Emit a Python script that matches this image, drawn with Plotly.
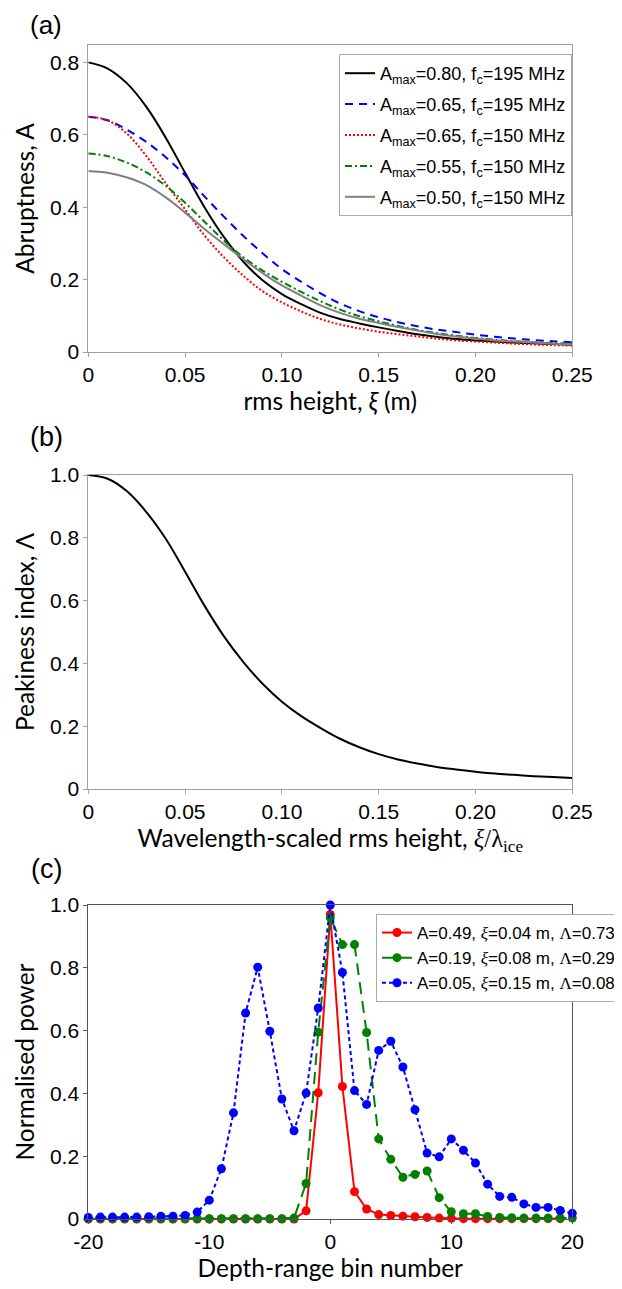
import plotly.graph_objects as go

# ---------------- Panel (a): abruptness vs rms height ----------------
xi_a = [0.00, 0.01, 0.02, 0.03, 0.04, 0.05, 0.06, 0.07, 0.08, 0.09, 0.10, 0.11, 0.12,
        0.13, 0.14, 0.15, 0.16, 0.17, 0.18, 0.19, 0.20, 0.21, 0.22, 0.23, 0.24, 0.25]
A_080_195 = [0.800, 0.783, 0.742, 0.677, 0.592, 0.495, 0.400, 0.318, 0.250, 0.198, 0.160, 0.132, 0.108,
             0.091, 0.079, 0.068, 0.058, 0.049, 0.042, 0.036, 0.032, 0.029, 0.026, 0.024, 0.022, 0.020]
A_065_195 = [0.650, 0.640, 0.614, 0.580, 0.538, 0.488, 0.430, 0.374, 0.321, 0.273, 0.229, 0.194, 0.162,
             0.134, 0.113, 0.096, 0.082, 0.071, 0.062, 0.055, 0.048, 0.042, 0.037, 0.033, 0.030, 0.027]
A_065_150 = [0.650, 0.640, 0.603, 0.541, 0.466, 0.394, 0.322, 0.262, 0.211, 0.168, 0.137, 0.112, 0.091,
             0.076, 0.065, 0.056, 0.049, 0.043, 0.037, 0.032, 0.029, 0.026, 0.023, 0.021, 0.019, 0.018]
A_055_150 = [0.548, 0.541, 0.523, 0.496, 0.459, 0.412, 0.360, 0.308, 0.262, 0.225, 0.194, 0.166, 0.140,
             0.117, 0.099, 0.085, 0.072, 0.061, 0.052, 0.045, 0.039, 0.034, 0.030, 0.027, 0.025, 0.023]
A_050_150 = [0.500, 0.495, 0.482, 0.461, 0.427, 0.385, 0.340, 0.298, 0.257, 0.218, 0.184, 0.156, 0.129,
             0.108, 0.092, 0.080, 0.069, 0.059, 0.050, 0.043, 0.037, 0.032, 0.029, 0.026, 0.023, 0.021]
names_a = ["A<sub>max</sub>=0.80, f<sub>c</sub>=195 MHz",
           "A<sub>max</sub>=0.65, f<sub>c</sub>=195 MHz",
           "A<sub>max</sub>=0.65, f<sub>c</sub>=150 MHz",
           "A<sub>max</sub>=0.55, f<sub>c</sub>=150 MHz",
           "A<sub>max</sub>=0.50, f<sub>c</sub>=150 MHz"]
xticks_ab = [0, 0.05, 0.10, 0.15, 0.20, 0.25]
xticklabels_ab = ["0", "0.05", "0.10", "0.15", "0.20", "0.25"]
yticks_a = [0, 0.2, 0.4, 0.6, 0.8]
yticklabels_a = ["0", "0.2", "0.4", "0.6", "0.8"]

# ---------------- Panel (b): peakiness index ----------------
xi_b = xi_a
peakiness = [1.000, 0.988, 0.948, 0.882, 0.797, 0.692, 0.584, 0.487, 0.405, 0.335, 0.278, 0.232, 0.194,
             0.160, 0.133, 0.111, 0.094, 0.081, 0.070, 0.062, 0.055, 0.049, 0.045, 0.041, 0.038, 0.035]
yticks_bc = [0, 0.2, 0.4, 0.6, 0.8, 1.0]
yticklabels_bc = ["0", "0.2", "0.4", "0.6", "0.8", "1.0"]

# ---------------- Panel (c): normalised power vs bin ----------------
bins = list(range(-20, 21))
p_red = [0.0] * 17 + [0.0, 0.026, 0.402, 0.970, 0.422, 0.087, 0.032, 0.014, 0.011, 0.009, 0.007,
                      0.005, 0.003, 0.002, 0.001, 0.001, 0.001, 0.001, 0.001, 0.001, 0.001, 0.001, 0.001]
p_green = [0.001] * 16 + [0.001, 0.003, 0.113, 0.595, 0.960, 0.874, 0.874, 0.594, 0.255, 0.190, 0.133,
                          0.142, 0.153, 0.068, 0.023, 0.017, 0.017, 0.008, 0.005, 0.004, 0.003, 0.003,
                          0.003, 0.003, 0.003]
p_blue = [0.005, 0.006, 0.006, 0.006, 0.006, 0.007, 0.009, 0.009, 0.011, 0.022, 0.060, 0.160, 0.338,
          0.656, 0.802, 0.598, 0.382, 0.281, 0.401, 0.672, 1.000, 0.785, 0.409, 0.365, 0.537, 0.566,
          0.484, 0.348, 0.210, 0.198, 0.255, 0.219, 0.178, 0.111, 0.072, 0.069, 0.048, 0.037, 0.037,
          0.027, 0.018]
SER = "font-family:'Liberation Serif'"
names_c = [f"A=0.49, <span style=\"{SER}\"><i>ξ</i></span>=0.04 m, <span style=\"{SER}\">Λ</span>=0.73",
           f"A=0.19, <span style=\"{SER}\"><i>ξ</i></span>=0.08 m, <span style=\"{SER}\">Λ</span>=0.29",
           f"A=0.05, <span style=\"{SER}\"><i>ξ</i></span>=0.15 m, <span style=\"{SER}\">Λ</span>=0.08"]
xticks_c = [-20, -10, 0, 10, 20]
xticklabels_c = ["-20", "-10", "0", "10", "20"]

W, H = 622, 1289
OFF = 8  # page body margin offset
TICKF = dict(family="Liberation Sans", size=21, color="black")
TITLEF = dict(family="Lato", size=24.5, color="black")
GREY = "#a0a0a0"

def px_x(p):
    return (p - OFF) / W

def px_y(p):
    return 1 - (p - OFF) / H

fig = go.Figure()

styles_a = [("black", "solid", 2), ("blue", "8px,6px", 2), ("red", "2px,2px", 2),
            ("green", "7px,3px,2px,3px", 2), ("grey", "solid", 2)]
for yv, nm, (c, d, w), g in zip([A_080_195, A_065_195, A_065_150, A_055_150, A_050_150],
                                names_a, styles_a, range(5)):
    fig.add_trace(go.Scatter(x=xi_a, y=yv, name=nm, mode="lines", xaxis="x", yaxis="y",
                             line=dict(color=c, dash=d, width=w, shape="spline", smoothing=1.0),
                             legend="legend", legendgroup=f"a{g}"))

fig.add_trace(go.Scatter(x=xi_b, y=peakiness, mode="lines", xaxis="x2", yaxis="y2", showlegend=False,
                         line=dict(color="black", width=2, shape="spline", smoothing=1.0)))

styles_c = [("red", "solid"), ("green", "12px,7px"), ("blue", "4px,3px")]
for yv, nm, (c, d), g in zip([p_red, p_green, p_blue], names_c, styles_c, range(3)):
    fig.add_trace(go.Scatter(x=bins, y=yv, name=nm, mode="lines+markers", xaxis="x3", yaxis="y3",
                             line=dict(color=c, dash=d, width=2), marker=dict(color=c, size=9),
                             cliponaxis=False, legend="legend2", legendgroup=f"c{g}"))

xdom = [px_x(88.3), px_x(572.3)]
def ydom(top, bot):
    return [px_y(bot), px_y(top)]

def axis_common(lc):
    return dict(showline=True, linecolor=lc, linewidth=1, mirror=True, ticks="outside",
                ticklen=4, tickcolor=lc, showgrid=False, zeroline=False, tickfont=TICKF,
                automargin=False)

fig.update_layout(
    template="none",
    width=W, height=H, margin=dict(l=0, r=0, t=0, b=0, pad=0, autoexpand=False),
    plot_bgcolor="white", paper_bgcolor="white",
    xaxis=dict(domain=xdom, range=[0, 0.25], tickvals=xticks_ab, ticktext=xticklabels_ab,
               anchor="y", title=dict(text="rms height, <i>ξ</i> (m)", font=TITLEF, standoff=6),
               **axis_common(GREY)),
    yaxis=dict(domain=ydom(45, 352), range=[0, 0.848], tickvals=yticks_a, ticktext=yticklabels_a,
               anchor="x", title=dict(text="Abruptness, A", font=TITLEF, standoff=8),
               **axis_common(GREY)),
    xaxis2=dict(domain=xdom, range=[0, 0.25], tickvals=xticks_ab, ticktext=xticklabels_ab,
                anchor="y2",
                title=dict(text="Wavelength-scaled rms height, <span style=\"font-family:'Liberation Serif'\">"
                                "<i>ξ</i>/λ<sub>ice</sub></span>", font=TITLEF, standoff=6),
                **axis_common(GREY)),
    yaxis2=dict(domain=ydom(475, 789), range=[0, 1.0], tickvals=yticks_bc, ticktext=yticklabels_bc,
                anchor="x2", title=dict(text="Peakiness index, Λ", font=TITLEF, standoff=8),
                **axis_common(GREY)),
    xaxis3=dict(domain=xdom, range=[-20, 20], tickvals=xticks_c, ticktext=xticklabels_c,
                anchor="y3", title=dict(text="Depth-range bin number", font=TITLEF, standoff=6),
                **axis_common("#555555")),
    yaxis3=dict(domain=ydom(905, 1219), range=[0, 1.0], tickvals=yticks_bc, ticktext=yticklabels_bc,
                anchor="x3", title=dict(text="Normalised power", font=TITLEF, standoff=8),
                **axis_common("#555555")),
    legend=dict(x=px_x(339), y=px_y(54), xanchor="left", yanchor="top", bgcolor="white",
                bordercolor="#aaaaaa", borderwidth=1, tracegroupgap=4.5,
                font=dict(family="Liberation Sans", size=18, color="black")),
    legend2=dict(x=px_x(376), y=px_y(914), xanchor="left", yanchor="top", bgcolor="white",
                 bordercolor="#aaaaaa", borderwidth=1, tracegroupgap=0,
                 font=dict(family="Liberation Sans", size=17, color="black")),
    showlegend=True,
)

for txt, yc, fs in [("(a)", 25, 26), ("(b)", 437.5, 27), ("(c)", 869, 27)]:
    fig.add_annotation(text=txt, xref="paper", yref="paper", x=px_x(46), y=px_y(yc),
                       xanchor="center", yanchor="middle", showarrow=False,
                       font=dict(family="Liberation Sans", size=fs, color="black"))

fig.write_html("out.html")
